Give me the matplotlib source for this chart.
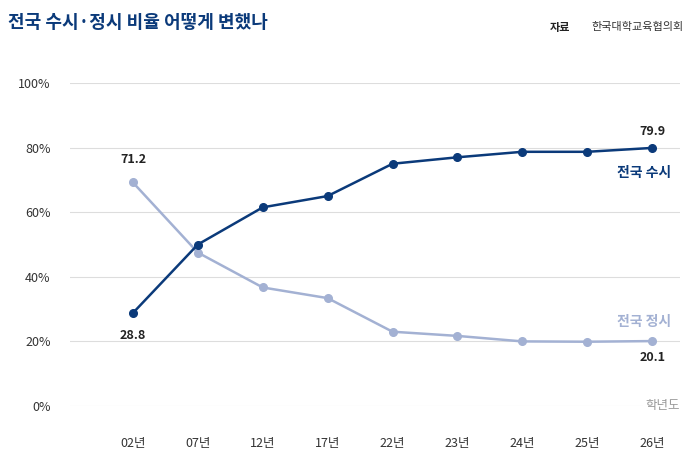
import matplotlib.pyplot as plt

plt.rcParams['font.family'] = ['Noto Sans CJK KR', 'DejaVu Sans']

years = ['02년', '07년', '12년', '17년', '22년', '23년', '24년', '25년', '26년']
susi = [28.8, 50.0, 61.5, 65.0, 75.0, 77.0, 78.7, 78.7, 79.9]
jeongsi = [69.2, 47.5, 36.7, 33.4, 23.0, 21.7, 20.0, 19.9, 20.1]
yticks = [0, 20, 40, 60, 80, 100]

dark = '#0b3a7a'
light = '#a3b1d3'

fig = plt.figure(figsize=(6.92, 4.5), dpi=100)
ax = fig.add_axes([70/692, 1-406/450, 610/692, 323/450])
x = range(len(years))
ax.plot(x, jeongsi, color=light, lw=1.8, marker='o', ms=5.5, zorder=3)
ax.plot(x, susi, color=dark, lw=1.8, marker='o', ms=5.5, zorder=4)

ax.set_xlim(-0.97, 8.43)
ax.set_ylim(0, 100)
ax.set_yticks(yticks)
ax.set_yticklabels([f'{v}%' for v in yticks], fontsize=9, color='#333333')
ax.set_xticks(list(x))
ax.set_xticklabels(years, fontsize=9, color='#333333')
ax.tick_params(length=0)
ax.tick_params(axis='x', pad=22)
ax.tick_params(axis='y', pad=14)
for v in yticks:
    ax.axhline(v, color='#dddddd', lw=0.8, zorder=1)
for s in ax.spines.values():
    s.set_visible(False)

ax.text(0, 71.2 + 3, '71.2', ha='center', va='bottom', fontsize=9, fontweight='bold', color='#222222')
ax.text(0, susi[0] - 5, f'{susi[0]}', ha='center', va='top', fontsize=9, fontweight='bold', color='#222222')
ax.text(8, susi[-1] + 3, f'{susi[-1]}', ha='center', va='bottom', fontsize=9, fontweight='bold', color='#222222')
ax.text(8, jeongsi[-1] - 3, f'{jeongsi[-1]}', ha='center', va='top', fontsize=9, fontweight='bold', color='#222222')
ax.text(8.3, 72, '전국 수시', ha='right', va='center', fontsize=10, fontweight='bold', color=dark)
ax.text(8.3, 26, '전국 정시', ha='right', va='center', fontsize=10, fontweight='bold', color=light)
ax.text(8.43, 0, '학년도', ha='right', va='center', fontsize=9, color='#999999',
        bbox=dict(facecolor='white', edgecolor='none', pad=2))

fig.text(8/692, 1-22/450, '전국 수시·정시 비율 어떻게 변했나', fontsize=13, fontweight='bold',
         color=dark, va='center')
fig.text(684/692, 1-27/450, '한국대학교육협의회', fontsize=8, color='#333333', ha='right', va='center')
fig.text(570/692, 1-27/450, '자료', fontsize=8, fontweight='bold', color='#222222', ha='right', va='center')

fig.savefig('out.png', dpi=100)
